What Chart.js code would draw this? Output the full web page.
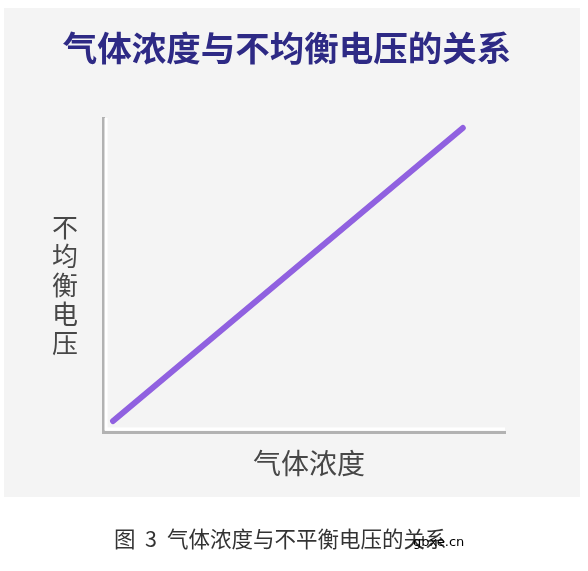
<!DOCTYPE html>
<html>
<head>
<meta charset="utf-8">
<script src="https://cdn.jsdelivr.net/npm/chart.js@4.4.0/dist/chart.umd.min.js"></script>
<style>
  html, body { margin: 0; padding: 0; background: #fff; }
  #wrap { width: 588px; height: 571px; }
</style>
</head>
<body>
<div id="wrap"><canvas id="c" width="588" height="571"></canvas></div>
<script>
// chart data
const gasConcentration = [2.5, 89.5];
const unbalanceVoltage = [3.5, 96.8];
const axisRange = [0, 100];

const titleText = '气体浓度与不均衡电压的关系';
const xLabel = '气体浓度';
const yLabel = '不均衡电压';
const captionParts = ['图', '3', '气体浓度与不平衡电压的关系'];
const watermark = 'gbxe.cn';

const CJK = '"Noto Sans CJK SC", "Noto Sans", sans-serif';

// background panel + text drawn around the plot
const decorPlugin = {
  id: 'decor',
  beforeDraw(chart) {
    const ctx = chart.ctx;
    ctx.save();
    ctx.fillStyle = '#ffffff';
    ctx.fillRect(0, 0, chart.width, chart.height);
    ctx.fillStyle = '#f4f4f4';
    ctx.fillRect(4, 8, 576, 489);
    ctx.restore();
  },
  beforeDatasetsDraw(chart) {
    // thin white highlight inside the axis lines
    const { ctx, chartArea: a } = chart;
    ctx.save();
    ctx.strokeStyle = '#ffffff';
    ctx.lineWidth = 3;
    ctx.beginPath();
    ctx.moveTo(a.left + 3, a.top);
    ctx.lineTo(a.left + 3, a.bottom - 3);
    ctx.lineTo(a.right, a.bottom - 3);
    ctx.stroke();
    ctx.restore();
  },
  afterDraw(chart) {
    const ctx = chart.ctx;
    ctx.save();
    ctx.textAlign = 'center';
    ctx.textBaseline = 'middle';

    ctx.fillStyle = '#2e2a85';
    ctx.font = 'bold 34.5px ' + CJK;
    ctx.fillText(titleText, 287, 48);

    ctx.fillStyle = '#474747';
    ctx.font = '28px ' + CJK;
    ctx.fillText(xLabel, 309, 463);

    ctx.font = '26px ' + CJK;
    [...yLabel].forEach((ch, i) => ctx.fillText(ch, 65, 227 + i * 29));

    ctx.textAlign = 'left';
    ctx.fillStyle = '#333333';
    ctx.font = '21.5px ' + CJK;
    ctx.fillText(captionParts[0], 114, 539);
    ctx.fillText(captionParts[1], 145, 539);
    ctx.fillText(captionParts[2], 167, 539);

    ctx.fillStyle = '#000000';
    ctx.font = '13px "DejaVu Sans", sans-serif';
    ctx.fillText(watermark, 413, 543);
    ctx.restore();
  }
};

new Chart(document.getElementById('c').getContext('2d'), {
  type: 'line',
  data: {
    datasets: [{
      data: gasConcentration.map((x, i) => ({ x: x, y: unbalanceVoltage[i] })),
      borderColor: '#9061e0',
      borderWidth: 6,
      borderCapStyle: 'round',
      pointRadius: 0,
      tension: 0
    }]
  },
  options: {
    responsive: false,
    animation: false,
    devicePixelRatio: 1,
    layout: { padding: { left: 95, right: 83, top: 118, bottom: 131 } },
    plugins: {
      legend: { display: false },
      title: { display: false },
      tooltip: { enabled: false }
    },
    scales: {
      x: {
        type: 'linear',
        min: axisRange[0],
        max: axisRange[1],
        grid: { display: false },
        ticks: { display: false },
        border: { display: true, color: '#b2b2b2', width: 3 }
      },
      y: {
        type: 'linear',
        min: axisRange[0],
        max: axisRange[1],
        grid: { display: false },
        ticks: { display: false },
        border: { display: true, color: '#b2b2b2', width: 3 }
      }
    }
  },
  plugins: [decorPlugin]
});
</script>
</body>
</html>
